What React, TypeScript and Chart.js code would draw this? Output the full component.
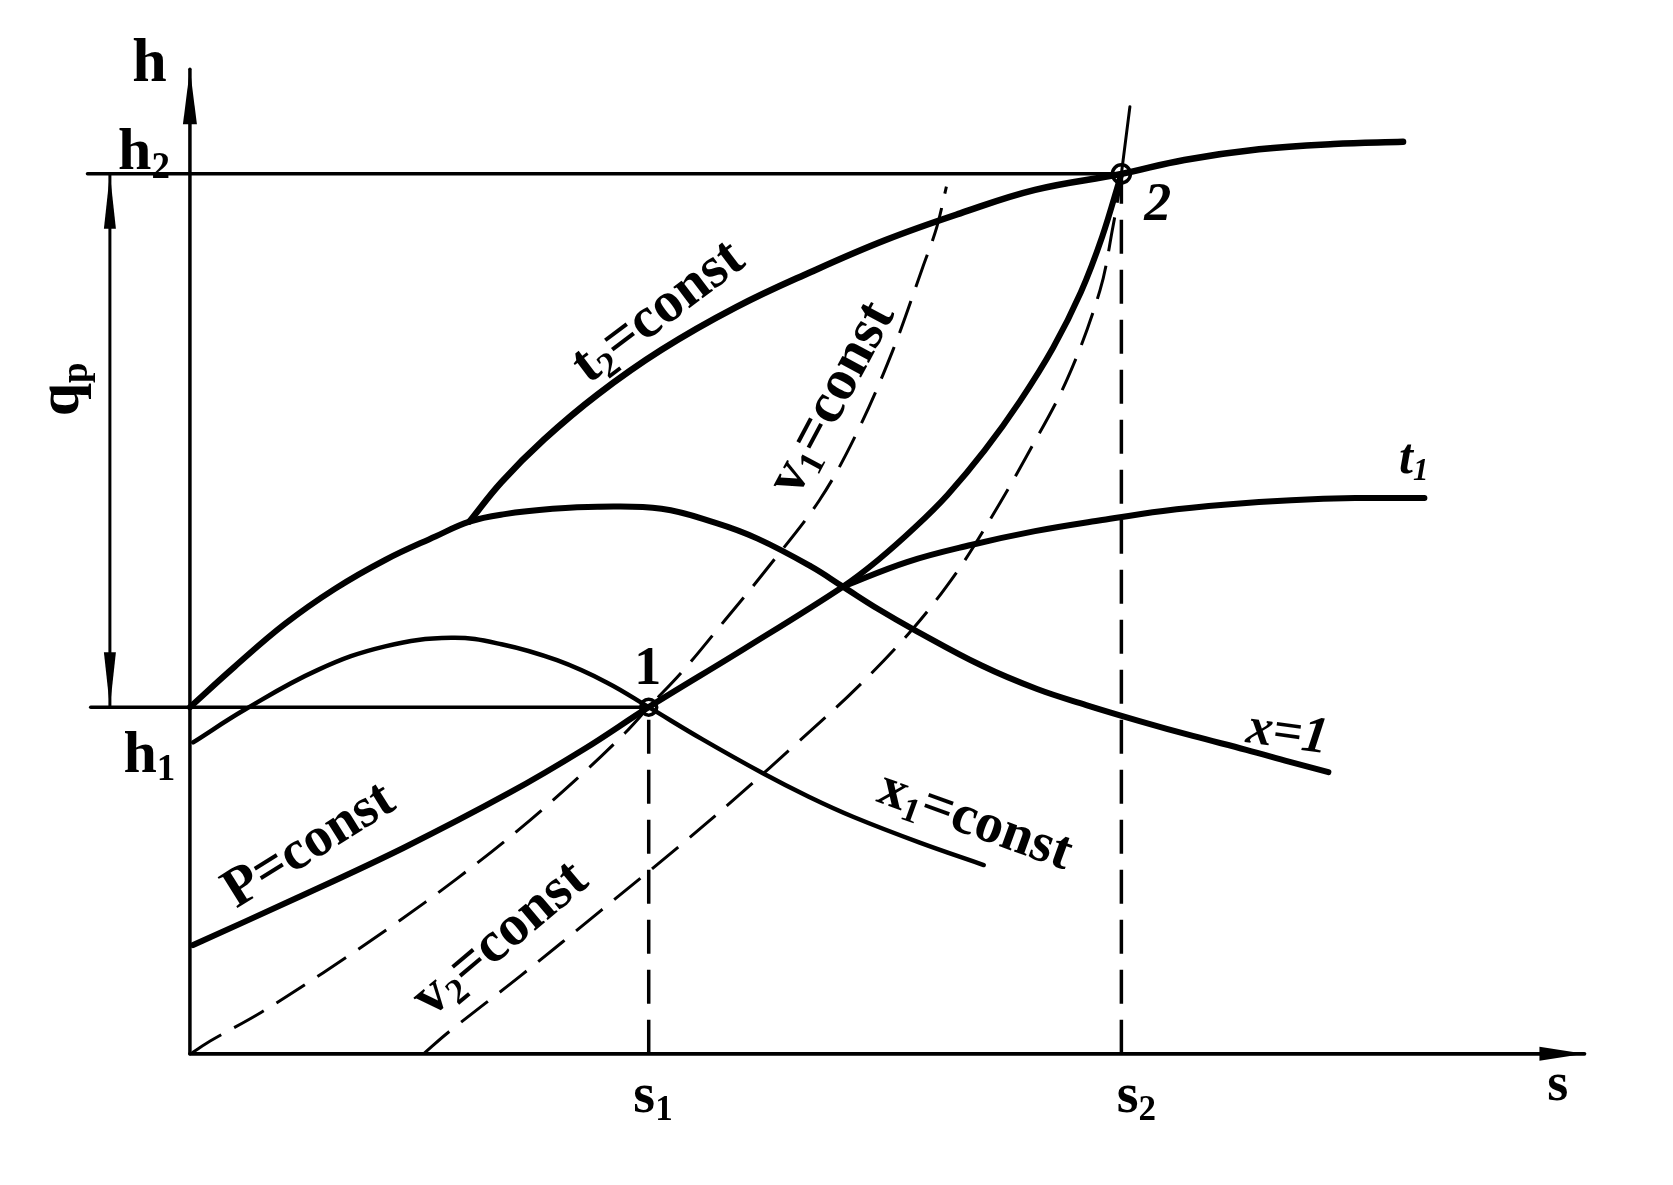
import React, { useEffect, useRef } from "react";
import { Chart, registerables } from "chart.js";

Chart.register(...registerables);

const W = 1673;
const H = 1185;
const X_MIN = -1.78;
const X_MAX = 13.9;
const Y_MIN = -1.23;
const Y_MAX = 9.88;

// key state values
const S1 = 4.3;
const S2 = 8.73;
const H1 = 3.25;
const H2 = 8.25;

// saturated curve (t2 liquid part + x = 1)
const satS = [0, 0.42, 0.89, 1.36, 1.83, 2.3, 2.62, 2.95, 3.4, 3.82, 4.42, 4.92, 5.32, 5.82, 6.12, 6.45, 6.78, 7.42, 7.94, 8.4, 8.9, 9.4, 9.9, 10.3, 10.67];
const satH = [3.25, 3.63, 4.03, 4.36, 4.63, 4.85, 4.99, 5.06, 5.11, 5.13, 5.11, 4.98, 4.83, 4.57, 4.38, 4.17, 3.98, 3.64, 3.42, 3.27, 3.12, 2.98, 2.85, 2.74, 2.64];

// t2 = const
const t2S = [2.62, 2.92, 3.32, 3.82, 4.42, 5.12, 5.82, 6.52, 7.22, 7.92, 8.73, 9.32, 10.02, 10.72, 11.37];
const t2H = [4.99, 5.36, 5.76, 6.18, 6.6, 7.0, 7.33, 7.63, 7.88, 8.1, 8.25, 8.38, 8.48, 8.53, 8.55];

// x1 = const
const x1S = [0.03, 0.52, 1.2, 1.83, 2.45, 2.92, 3.44, 3.91, 4.3, 4.8, 5.37, 5.8, 6.22, 6.84, 7.44];
const x1H = [2.92, 3.23, 3.6, 3.82, 3.9, 3.84, 3.69, 3.48, 3.25, 2.95, 2.63, 2.41, 2.22, 1.98, 1.77];

// P = const
const pS = [0.03, 1.0, 2.0, 3.0, 3.7, 4.3, 5.2, 6.12, 6.45, 6.8, 7.1, 7.45, 7.78, 8.09, 8.35, 8.55, 8.73];
const pH = [1.02, 1.46, 1.93, 2.45, 2.86, 3.25, 3.8, 4.38, 4.63, 4.94, 5.24, 5.66, 6.12, 6.62, 7.14, 7.66, 8.25];
const pExtS = [8.73, 8.81];
const pExtH = [8.25, 8.88];

// t1
const t1S = [6.12, 6.72, 7.32, 7.92, 8.52, 9.12, 9.72, 10.32, 10.92, 11.57];
const t1H = [4.38, 4.61, 4.77, 4.9, 5.0, 5.09, 5.15, 5.19, 5.21, 5.21];

// v1 = const (dashed)
const v1S = [0.02, 0.19, 0.67, 1.25, 1.91, 2.5, 3.08, 3.64, 4.08, 4.3, 4.62, 5.01, 5.41, 5.9, 6.25, 6.59, 6.87, 7.0, 7.09];
const v1H = [0.01, 0.12, 0.39, 0.76, 1.21, 1.64, 2.1, 2.59, 3.01, 3.25, 3.59, 4.06, 4.55, 5.19, 5.82, 6.6, 7.38, 7.75, 8.13];

// v2 = const (dashed)
const v2S = [2.19, 2.42, 3.11, 3.86, 4.58, 5.14, 5.72, 6.26, 6.78, 7.19, 7.5, 7.84, 8.22, 8.53, 8.65, 8.72];
const v2H = [0, 0.2, 0.74, 1.35, 1.94, 2.42, 2.94, 3.44, 3.99, 4.52, 5.01, 5.6, 6.32, 7.16, 7.75, 8.15];

// axes extents
const sAxisEnd = 13.07;
const hAxisEnd = 9.23;
const h1LineStart = -0.93;
const h2LineStart = -0.96;
const qpS = -0.75;

// labels
const labelTexts = ["h", "h_2", "h_1", "q_p", "s_1", "s_2", "s", "1", "2", "t_1", "t_2=const", "v_1=const", "P=const", "v_2=const", "x_1=const", "x=1"];
const labelS = [-0.38, -0.43, -0.38, -1.23, 4.34, 8.87, 12.82, 4.29, 9.07, 11.47, 4.37, 5.99, 1.1, 2.89, 7.37, 10.29];
const labelH = [9.31, 8.48, 2.83, 6.23, -0.37, -0.37, -0.27, 3.63, 7.98, 5.6, 6.98, 6.16, 1.98, 1.1, 2.21, 3.03];
const labelAngles = [0, 0, 0, -90, 0, 0, 0, 0, 0, 0, -37, -62, -32, -40, 20, 8];
const labelSizes = [62, 60, 60, 60, 56, 56, 54, 54, 54, 50, 58, 58, 56, 58, 56, 52];
const labelItalic = [false, false, false, false, false, false, false, false, true, true, false, false, false, false, false, true];

const pts = (xs: number[], ys: number[]) => xs.map((x, i) => ({ x, y: ys[i] }));

const FAM = '"Liberation Serif", "DejaVu Serif", serif';

function drawRich(ctx: CanvasRenderingContext2D, text: string, size: number, italic: boolean) {
  const segs: { c: string; sub: boolean }[] = [];
  for (let i = 0; i < text.length; i++) {
    if (text[i] === "_") {
      segs.push({ c: text[i + 1], sub: true });
      i++;
    } else segs.push({ c: text[i], sub: false });
  }
  const font = (sub: boolean) => `${italic ? "italic " : ""}bold ${sub ? Math.round(size * 0.62) : size}px ${FAM}`;
  let total = 0;
  const widths = segs.map((s) => {
    ctx.font = font(s.sub);
    const w = ctx.measureText(s.c).width;
    total += w;
    return w;
  });
  let x = -total / 2;
  ctx.textBaseline = "alphabetic";
  ctx.textAlign = "left";
  segs.forEach((s, i) => {
    ctx.font = font(s.sub);
    ctx.fillText(s.c, x, s.sub ? size * 0.33 + size * 0.14 : size * 0.33);
    x += widths[i];
  });
}

const overlayPlugin = {
  id: "overlay",
  beforeDraw(chart: any) {
    const ctx = chart.ctx;
    ctx.save();
    ctx.fillStyle = "#ffffff";
    ctx.fillRect(0, 0, chart.width, chart.height);
    ctx.restore();
  },
  afterDatasetsDraw(chart: any) {
    const ctx: CanvasRenderingContext2D = chart.ctx;
    const xs = chart.scales.x;
    const ys = chart.scales.y;
    const px = (v: number) => xs.getPixelForValue(v);
    const py = (v: number) => ys.getPixelForValue(v);
    ctx.save();
    ctx.fillStyle = "#000";
    const arrow = (tx: number, ty: number, dx: number, dy: number, len: number, half: number) => {
      const bx = tx - dx * len;
      const by = ty - dy * len;
      const nx = -dy;
      const ny = dx;
      ctx.beginPath();
      ctx.moveTo(tx, ty);
      ctx.lineTo(bx + nx * half, by + ny * half);
      ctx.lineTo(bx - nx * half, by - ny * half);
      ctx.closePath();
      ctx.fill();
    };
    arrow(px(0), py(hAxisEnd), 0, -1, 55, 7);
    arrow(px(sAxisEnd), py(0), 1, 0, 45, 7);
    arrow(px(qpS), py(H2), 0, -1, 55, 6);
    arrow(px(qpS), py(H1), 0, 1, 55, 6);
    labelTexts.forEach((t, i) => {
      ctx.save();
      ctx.translate(px(labelS[i]), py(labelH[i]));
      ctx.rotate((labelAngles[i] * Math.PI) / 180);
      drawRich(ctx, t, labelSizes[i], labelItalic[i]);
      ctx.restore();
    });
    ctx.restore();
  },
};

export default function App() {
  const ref = useRef<HTMLCanvasElement | null>(null);
  useEffect(() => {
    if (!ref.current) return;
    const line = (data: any[], width: number, dash: number[] = [], tension = 0.4) => ({
      data,
      showLine: true,
      borderColor: "#000",
      borderWidth: width,
      borderDash: dash,
      borderCapStyle: "round",
      borderJoinStyle: "round",
      pointRadius: 0,
      pointHoverRadius: 0,
      tension,
      fill: false,
      clip: false,
    });
    const chart = new Chart(ref.current, {
      type: "scatter",
      data: {
        datasets: [
          line([{ x: 0, y: 0 }, { x: sAxisEnd, y: 0 }], 3.8, [], 0),
          line([{ x: 0, y: 0 }, { x: 0, y: hAxisEnd }], 3.5, [], 0),
          line([{ x: h2LineStart, y: H2 }, { x: S2, y: H2 }], 3.5, [], 0),
          line([{ x: h1LineStart, y: H1 }, { x: S1, y: H1 }], 3.5, [], 0),
          line([{ x: qpS, y: H1 }, { x: qpS, y: H2 }], 3, [], 0),
          { ...line([{ x: S1, y: 0 }, { x: S1, y: H1 }], 3.5, [34, 16], 0), borderCapStyle: "butt" },
          { ...line([{ x: S2, y: 0 }, { x: S2, y: H2 }], 3.5, [34, 16], 0), borderCapStyle: "butt" },
          { ...line(pts(v1S, v1H), 3, [34, 15], 0.35), borderCapStyle: "butt" },
          { ...line(pts(v2S, v2H), 3, [34, 15], 0.35), borderCapStyle: "butt" },
          line(pts(satS, satH), 6, [], 0.4),
          line(pts(t2S, t2H), 6.5),
          line(pts(x1S, x1H), 4.5, [], 0.4),
          line(pts(pS, pH), 6, [], 0.35),
          line(pts(pExtS, pExtH), 3, [], 0),
          line(pts(t1S, t1H), 6),
          {
            data: [{ x: S1, y: H1 }, { x: S2, y: H2 }],
            showLine: false,
            pointRadius: [8, 9],
            pointHoverRadius: [8, 9],
            pointBackgroundColor: "#fff",
            pointBorderColor: "#000",
            pointBorderWidth: 3.5,
            clip: false,
          },
        ] as any,
      },
      options: {
        responsive: false,
        animation: false,
        devicePixelRatio: 1,
        layout: { padding: 0, autoPadding: false },
        events: [],
        plugins: { legend: { display: false }, tooltip: { enabled: false } },
        scales: {
          x: { type: "linear", min: X_MIN, max: X_MAX, display: false },
          y: { type: "linear", min: Y_MIN, max: Y_MAX, display: false },
        },
      } as any,
      plugins: [overlayPlugin],
    });
    return () => chart.destroy();
  }, []);
  return (
    <div style={{ position: "absolute", left: 0, top: 0, width: W, height: H, background: "#fff" }}>
      <canvas ref={ref} width={W} height={H} style={{ display: "block", width: W, height: H }} />
    </div>
  );
}
